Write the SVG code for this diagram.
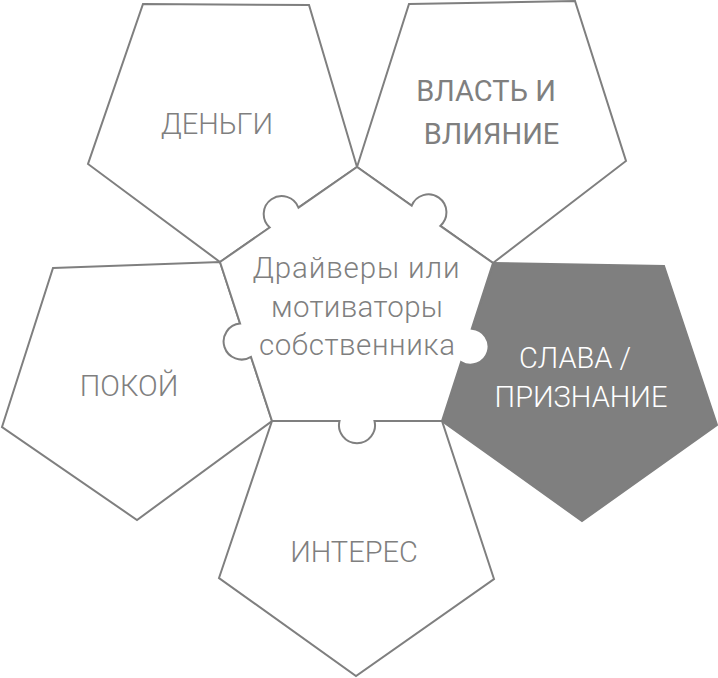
<svg xmlns="http://www.w3.org/2000/svg" width="718" height="678" viewBox="0 0 718 678">
<style>
.p{fill:#ffffff;stroke:#7f7f7f;stroke-width:2;stroke-linejoin:miter}
.dark{fill:#7f7f7f}
.t{font-family:Roboto,"Liberation Sans",sans-serif;font-weight:300;font-size:29px;fill:#7f7f7f;text-anchor:middle}
.b{font-weight:400;font-size:29px}
.w{fill:#ffffff}
.c{font-size:29.5px}
</style>
<rect width="718" height="678" fill="#ffffff"/>
<g id="dengi">
<polygon class="p" points="143,4 309,5 357,167 220,262 88,164"/>
<text class="t" x="217" y="134">ДЕНЬГИ</text>
</g>
<g id="vlast">
<polygon class="p" points="409,4 575,1 626,161 493,263 357,167"/>
<text class="t b" x="486" y="101">ВЛАСТЬ И</text>
<text class="t b" x="491.5" y="144">ВЛИЯНИЕ</text>
</g>
<g id="pokoy">
<polygon class="p" points="53,268 220,262 272,421 137,520 2,427"/>
<text class="t" x="129" y="396">ПОКОЙ</text>
</g>
<g id="slava">
<polygon class="p dark" points="493,263 664,266 717,425 582,521 442,421"/>
<text class="t w" x="575" y="368">СЛАВА /</text>
<text class="t w" x="581" y="407">ПРИЗНАНИЕ</text>
</g>
<g id="interes">
<polygon class="p" points="272,421 442,421 494,579 356,676 219,578"/>
<text class="t" x="354" y="562">ИНТЕРЕС</text>
</g>
<g id="center">
<path class="p" d="M220,262 L269.7,227.5 A18,18 0 1 1 298.5,207.6 L357,167 L411.7,205.7 A18,18 0 1 1 440.3,225.9 L493,263 L471.8,328.7 A18,18 0 1 1 461.1,362 L442,421 L374.5,421 A18,18 0 1 1 339.5,421 L272,421 L251,356.9 A18,18 0 1 1 240.1,323.6 Z"/>
<text class="t c" x="356" y="278" textLength="207" lengthAdjust="spacing">Драйверы или</text>
<text class="t c" x="357" y="317" textLength="172" lengthAdjust="spacing">мотиваторы</text>
<text class="t c" x="357" y="355" textLength="196" lengthAdjust="spacing">собственника</text>
</g>
<g id="connectors"/>
</svg>
